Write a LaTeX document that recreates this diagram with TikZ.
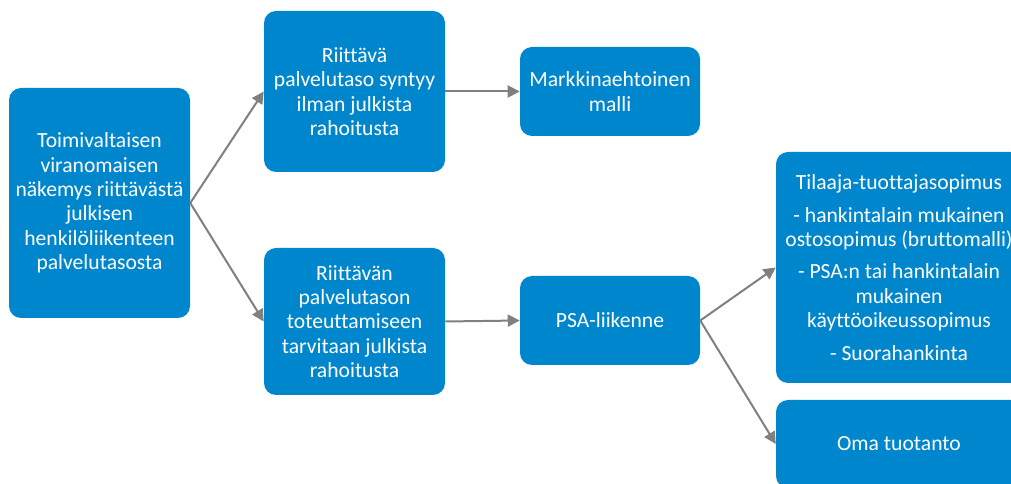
\documentclass[tikz,border=0pt]{standalone}
\usepackage{fontspec}
\setmainfont{Carlito}[Ligatures={NoCommon}]
\usetikzlibrary{arrows.meta}
\definecolor{boxblue}{HTML}{0086CC}
\definecolor{arrgray}{HTML}{808080}
\begin{document}
\begin{tikzpicture}[x=0.75pt,y=-0.75pt,
  box/.style={fill=boxblue, rounded corners=9pt, text=white, align=center,
    inner sep=0pt, font=\fontsize{16.2}{18.3}\selectfont},
  conn/.style={draw=arrgray, line width=1.5pt,
    -{Triangle[length=9pt,width=9pt]}}]
\useasboundingbox (0,0) rectangle (1011,484);
\fill[white] (0,0) rectangle (1011,484);
\node[box, minimum width={181*0.75pt}, minimum height={230*0.75pt}] (b1) at (99.5,203)
  {Toimivaltaisen\\viranomaisen\\näkemys riittävästä\\julkisen\\henkilöliikenteen\\palvelutasosta};
\node[box, minimum width={181*0.75pt}, minimum height={161*0.75pt}] (b2) at (354.5,91.5)
  {Riittävä\\palvelutaso syntyy\\ilman julkista\\rahoitusta};
\node[box, minimum width={181*0.75pt}, minimum height={147*0.75pt}] (b3) at (354.5,321.5)
  {Riittävän\\palvelutason\\toteuttamiseen\\tarvitaan julkista\\rahoitusta};
\node[box, minimum width={180*0.75pt}, minimum height={89*0.75pt}] (b4) at (610,91.5)
  {Markkinaehtoinen\\malli};
\node[box, minimum width={180*0.75pt}, minimum height={89*0.75pt}] (b5) at (610,320.5)
  {PSA-liikenne};
\node[box, minimum width={246*0.75pt}, minimum height={231*0.75pt}] (b6) at (899,267.5)
  {Tilaaja-tuottajasopimus\\[6pt]- hankintalain mukainen\\ostosopimus (bruttomalli)\\[6pt]- PSA:n tai hankintalain\\mukainen\\käyttöoikeussopimus\\[6pt]- Suorahankinta};
\node[box, minimum width={246*0.75pt}, minimum height={88*0.75pt}] (b7) at (899,444)
  {Oma tuotanto};
\draw[conn] (b1.east) -- (b2.west);
\draw[conn] (b1.east) -- (b3.west);
\draw[conn] (b2.east) -- (b4.west);
\draw[conn] (b3.east) -- (b5.west);
\draw[conn] (b5.east) -- (b6.west);
\draw[conn] (b5.east) -- (b7.west);
\end{tikzpicture}
\end{document}
